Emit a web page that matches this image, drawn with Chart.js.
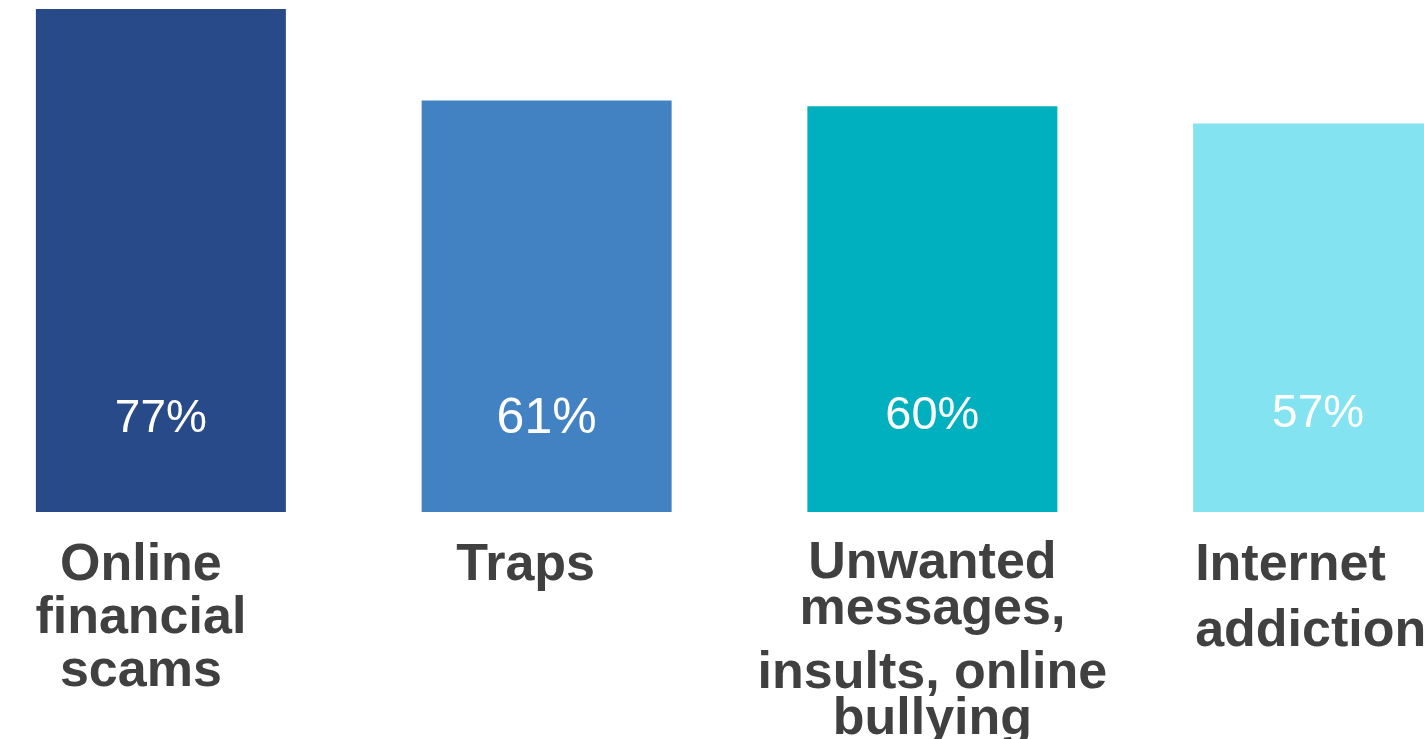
<!DOCTYPE html>
<html>
<head>
<meta charset="utf-8">
<script src="https://cdn.jsdelivr.net/npm/chart.js@4"></script>
<style>
  html, body { margin: 0; padding: 0; background: #ffffff; overflow: hidden; }
  body { width: 1424px; height: 739px; position: relative; }
  #wrap { position: absolute; left: -32px; top: 0; width: 1543px; height: 739px; }
</style>
</head>
<body>
<div id="wrap"><canvas id="c" width="1543" height="739"></canvas></div>
<script>
// ---- data ----
const categories = [
  ["Online", "financial", "scams"],
  ["Traps"],
  ["Unwanted", "messages,", "insults, online", "bullying"],
  ["Internet", "addiction"]
];
const values = [77, 61, 60, 57];
const valueLabels = ["77%", "61%", "60%", "57%"];
const barColors = ["#284A88", "#4282C2", "#00B0BE", "#83E3F0"];

// ---- axis range (the original's bars do not start at 0) ----
const yMin = -10.9;
const yMax = 77.7;

// ---- styling for the text ----
const catStyle = [
  { align: "center", shift: -20, baselines: [580, 633, 686] },
  { align: "center", shift: -21, baselines: [580] },
  { align: "center", shift: 0, baselines: [578, 624, 688, 734] },
  { align: "left", shift: 2, baselines: [580, 646] }
];
const valStyle = [
  { size: 46, baseline: 432 },
  { size: 50, baseline: 433 },
  { size: 47, baseline: 429 },
  { size: 46, baseline: 427 }
];

const labelPlugin = {
  id: "labels",
  afterDatasetsDraw(chart) {
    const ctx = chart.ctx;
    const meta = chart.getDatasetMeta(0);
    ctx.save();
    meta.data.forEach((bar, i) => {
      const vs = valStyle[i];
      ctx.fillStyle = "#ffffff";
      ctx.font = "normal " + vs.size + "px 'Liberation Sans', Arial, sans-serif";
      ctx.textAlign = "center";
      ctx.textBaseline = "alphabetic";
      ctx.fillText(valueLabels[i], bar.x, vs.baseline);
      const cs = catStyle[i];
      ctx.fillStyle = "#404040";
      ctx.font = "bold 52px 'Liberation Sans', Arial, sans-serif";
      ctx.textAlign = cs.align;
      const left = bar.x - bar.width / 2;
      const x = cs.align === "left" ? left + cs.shift : bar.x + cs.shift;
      categories[i].forEach((line, j) => {
        ctx.fillText(line, x, cs.baselines[j]);
      });
    });
    ctx.restore();
  }
};

new Chart(document.getElementById("c"), {
  type: "bar",
  data: {
    labels: categories.map(c => c.join(" ")),
    datasets: [{
      data: values,
      base: yMin,
      backgroundColor: barColors,
      borderWidth: 0,
      barPercentage: 1,
      categoryPercentage: 250 / 385.75
    }]
  },
  options: {
    responsive: false,
    animation: false,
    devicePixelRatio: 1,
    layout: { padding: { top: 5, bottom: 227, left: 0, right: 0 } },
    plugins: { legend: { display: false }, tooltip: { enabled: false } },
    scales: {
      x: { display: false, grid: { display: false } },
      y: { display: false, min: yMin, max: yMax, grid: { display: false } }
    }
  },
  plugins: [labelPlugin]
});
</script>
</body>
</html>
